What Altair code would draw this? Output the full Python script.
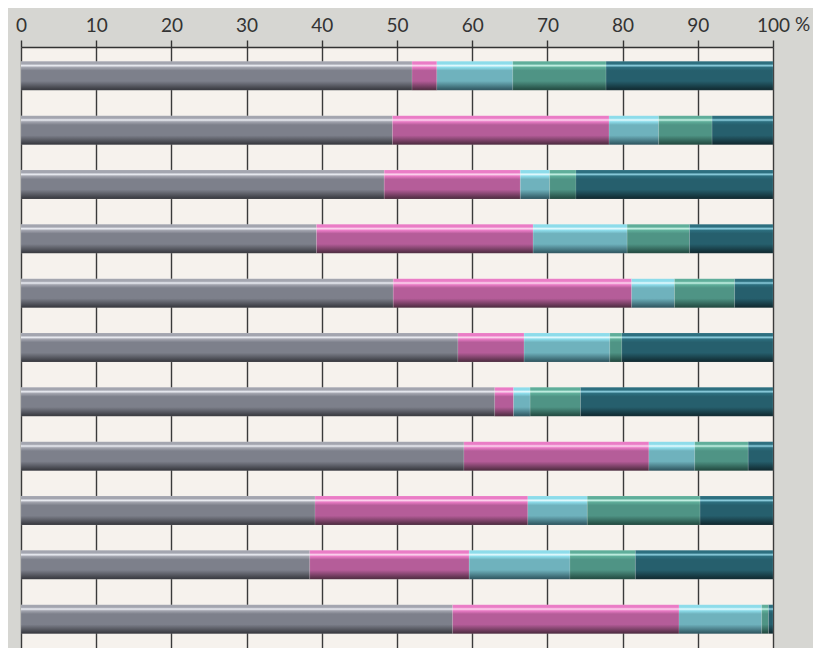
import altair as alt
import pandas as pd

rows = [f"R{i}" for i in range(1, 12)]
segments = ["s1", "s2", "s3", "s4", "s5"]
s1 = [52.0, 49.4, 48.3, 39.3, 49.5, 58.1, 63.0, 58.9, 39.1, 38.4, 57.4]
s2 = [3.3, 28.8, 18.1, 28.8, 31.7, 8.8, 2.5, 24.6, 28.3, 21.2, 30.1]
s3 = [10.1, 6.6, 3.9, 12.5, 5.7, 11.4, 2.2, 6.1, 7.9, 13.4, 11.0]
s4 = [12.4, 7.1, 3.5, 8.3, 8.0, 1.6, 6.7, 7.1, 15.0, 8.7, 0.9]
s5 = [22.2, 8.1, 26.2, 11.1, 5.1, 20.1, 25.6, 3.3, 9.7, 18.3, 0.6]
tick_values = [0, 10, 20, 30, 40, 50, 60, 70, 80, 90, 100]

series = [s1, s2, s3, s4, s5]
records = []
for si, (name, vals) in enumerate(zip(segments, series)):
    for r, v in zip(rows, vals):
        records.append({"row": r, "seg": name, "order": si, "value": v})
df = pd.DataFrame(records)

# (top, highlight, main, bottom)
palette = {
    "s1": ("#a3a5af", "#eceef4", "#7d808b", "#34353b"),
    "s2": ("#ea7cc6", "#fdd8f0", "#b55d99", "#4a2a3d"),
    "s3": ("#8ddcea", "#e6fbff", "#6fb2bd", "#2c525c"),
    "s4": ("#5fae9a", "#c8f3e6", "#4f9485", "#20463d"),
    "s5": ("#2d6f7f", "#8fd0e0", "#265f6d", "#0f272d"),
}


def grad(name):
    top, hi, main, bot = palette[name]
    return alt.Gradient(
        gradient="linear",
        x1=0, x2=0, y1=0, y2=1,
        stops=[
            alt.GradientStop(color=top, offset=0),
            alt.GradientStop(color=top, offset=0.09),
            alt.GradientStop(color=hi, offset=0.15),
            alt.GradientStop(color=top, offset=0.21),
            alt.GradientStop(color=main, offset=0.32),
            alt.GradientStop(color=main, offset=0.68),
            alt.GradientStop(color=bot, offset=1),
        ],
    )


x_enc = alt.X(
    "x0:Q",
    scale=alt.Scale(domain=[0, 100], nice=False, zero=False),
    axis=alt.Axis(
        orient="top",
        values=tick_values,
        title=None,
        grid=True,
        gridColor="#3a3a3a",
        gridWidth=1.4,
        gridOpacity=1,
        domainColor="#333333",
        domainWidth=1.4,
        tickColor="#333333",
        tickWidth=1.4,
        tickSize=7,
        labelFont="Lato",
        labelFontSize=19,
        labelColor="#333333",
        labelBaseline="alphabetic",
        labelPadding=9,
        labelFlush=False,
        labelOverlap=False,
    ),
)
y_enc = alt.Y(
    "row:N",
    sort=rows,
    scale=alt.Scale(paddingInner=0.466, paddingOuter=0.263),
    axis=None,
)

base = alt.Chart(df).transform_stack(
    stack="value",
    groupby=["row"],
    as_=["x0", "x1"],
    sort=[alt.SortField("order", order="ascending")],
)

layers = []
for name in segments:
    layers.append(
        base.transform_filter(alt.datum.seg == name)
        .mark_bar(color=grad(name), stroke="#ffffff", strokeWidth=0.6, strokeOpacity=0.18)
        .encode(x=x_enc, x2="x1:Q", y=y_enc)
    )

pct = alt.Chart(pd.DataFrame({"t": ["%"]})).mark_text(
    align="left", baseline="alphabetic", dx=22, font="Lato", fontSize=19, color="#333333"
).encode(x=alt.datum(100), y=alt.value(-16), text="t:N")

chart = (
    alt.layer(*layers, pct)
    .properties(
        width=752,
        height=601,
        autosize=alt.AutoSizeParams(type="none"),
        padding={"left": 13, "top": 39, "right": 40, "bottom": 0},
        background="#d6d6d2",
    )
    .configure_view(fill="#f6f2ed", strokeWidth=0)
)

chart.save("out.html", embed_options={"renderer": "svg", "actions": False})
